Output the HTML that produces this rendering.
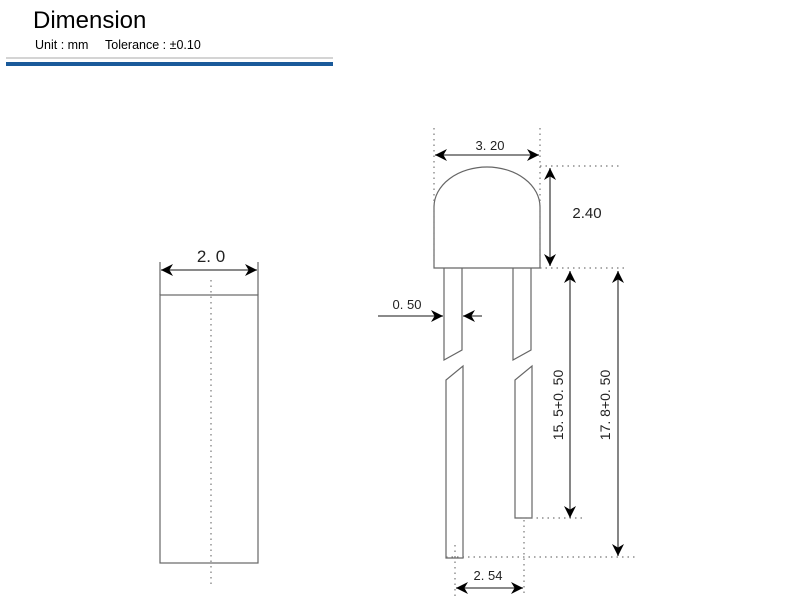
<!DOCTYPE html>
<html><head><meta charset="utf-8"><style>
html,body{margin:0;padding:0;background:#fff;width:800px;height:600px;overflow:hidden}
svg{display:block}
</style></head><body>
<svg width="800" height="600" viewBox="0 0 800 600" xmlns="http://www.w3.org/2000/svg" font-family="Liberation Sans, sans-serif">
<defs>
<marker id="ah" viewBox="0 0 10 10" refX="10" refY="5" markerWidth="12" markerHeight="12" orient="auto-start-reverse" markerUnits="userSpaceOnUse">
<path d="M0,0 L10,5 L0,10 L3,5 Z" fill="#000"/>
</marker>
</defs>
<text x="33" y="28" font-size="24" fill="#000">Dimension</text>
<text x="35" y="49" font-size="12.5" fill="#000">Unit : mm</text>
<text x="105" y="49" font-size="12.5" fill="#000">Tolerance : ±0.10</text>
<line x1="6" y1="58" x2="333" y2="58" stroke="#aaa" stroke-width="1"/>
<rect x="6" y="62" width="327" height="4" fill="#1a5a9a"/>

<g stroke="#666" fill="none" stroke-width="1.2">
<rect x="160" y="295" width="98" height="268"/>
<line x1="160" y1="262" x2="160" y2="295"/>
<line x1="258" y1="262" x2="258" y2="295"/>
<path d="M434,268 L434,207 A53,40 0 0 1 540,207 L540,268 Z"/>
<path d="M444,268 L444,360 L462,350 L462,268"/>
<path d="M446,558 L446,380 L463,366 L463,558 Z"/>
<path d="M513,268 L513,360 L531,350 L531,268"/>
<path d="M515,518 L515,380 L532,366 L532,518 Z"/>
</g>
<g stroke="#777" stroke-width="1.2" stroke-dasharray="1.5,4" fill="none">
<line x1="211" y1="280" x2="211" y2="588"/>
<line x1="434" y1="128" x2="434" y2="268"/>
<line x1="540" y1="128" x2="540" y2="268"/>
<line x1="540" y1="166" x2="622" y2="166"/>
<line x1="540" y1="268" x2="628" y2="268"/>
<line x1="520" y1="518" x2="585" y2="518"/>
<line x1="446" y1="557" x2="636" y2="557"/>
<line x1="455" y1="545" x2="455" y2="596"/>
<line x1="524" y1="520" x2="524" y2="596"/>
</g>
<g stroke="#444" stroke-width="1.3" fill="none">
<line x1="161" y1="270" x2="257" y2="270" marker-start="url(#ah)" marker-end="url(#ah)"/>
<line x1="435" y1="155" x2="539" y2="155" marker-start="url(#ah)" marker-end="url(#ah)"/>
<line x1="550" y1="168" x2="550" y2="266" marker-start="url(#ah)" marker-end="url(#ah)"/>
<line x1="570" y1="271" x2="570" y2="518" marker-start="url(#ah)" marker-end="url(#ah)"/>
<line x1="618" y1="271" x2="618" y2="556" marker-start="url(#ah)" marker-end="url(#ah)"/>
<line x1="378" y1="316" x2="443" y2="316" marker-end="url(#ah)"/>
<line x1="482" y1="316" x2="463" y2="316" marker-end="url(#ah)"/>
<line x1="456" y1="588" x2="523" y2="588" marker-start="url(#ah)" marker-end="url(#ah)"/>
</g>
<g fill="#222" text-anchor="middle">
<text x="211" y="262" font-size="17">2. 0</text>
<text x="490" y="150" font-size="13">3. 20</text>
<text x="587" y="218" font-size="15">2.40</text>
<text x="407" y="309" font-size="13">0. 50</text>
<text x="488" y="580" font-size="13">2. 54</text>
<text x="0" y="0" font-size="14" transform="translate(563,405) rotate(-90)">15. 5+0. 50</text>
<text x="0" y="0" font-size="14" transform="translate(610,405) rotate(-90)">17. 8+0. 50</text>
</g>
</svg>
</body></html>
